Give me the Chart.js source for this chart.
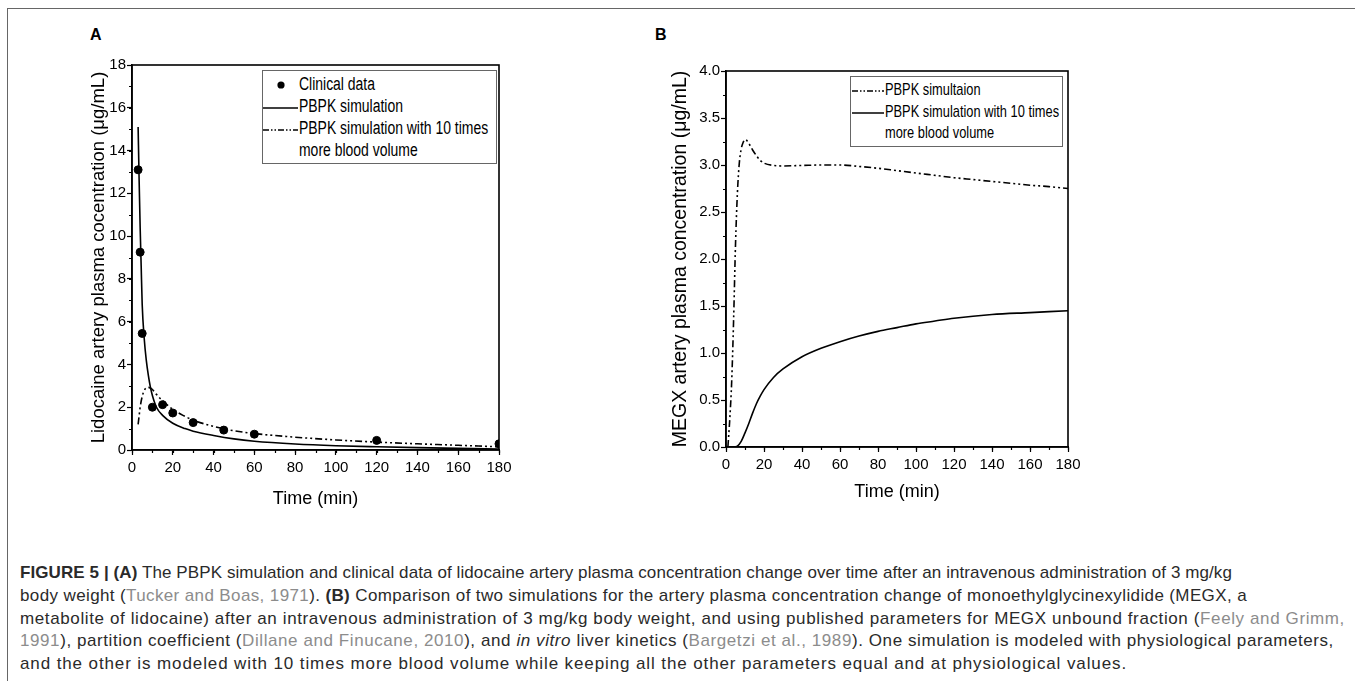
<!DOCTYPE html>
<html>
<head>
<meta charset="utf-8">
<script src="https://cdn.jsdelivr.net/npm/chart.js@4.4.1/dist/chart.umd.min.js"></script>
<style>
  body { margin: 0; background: #fff; }
  #page { position: relative; width: 1355px; height: 681px; overflow: hidden; background: #fff; }
  #frame { position: absolute; left: 7px; top: 8px; width: 1400px; height: 700px; border: 1.5px solid #666; }
  .panel { position: absolute; font: bold 16px 'Liberation Sans', Arial, sans-serif; }
  canvas { position: absolute; }
  .legend { position: absolute; border: 1px solid #666; background: #fff; font-family: 'Liberation Sans', Arial, sans-serif; color: #000; }
  .legend .row { position: absolute; white-space: nowrap; transform-origin: 0 50%; }
  .legend svg { position: absolute; }
  #caption { position: absolute; left: 20px; top: 562px; font: 17px 'Liberation Sans', Arial, sans-serif; color: #2a2a2a; }
  #caption .ln { height: 22.8px; line-height: 22.8px; white-space: nowrap; }
  #caption .ref { color: #8c8c8c; }
</style>
</head>
<body>
<div id="page">
  <div id="frame"></div>
  <div class="panel" style="left:90px; top:26px;">A</div>
  <div class="panel" style="left:655px; top:26px;">B</div>
  <canvas id="chartA" width="640" height="530" style="left:0; top:0;"></canvas>
  <canvas id="chartB" width="715" height="530" style="left:640px; top:0;"></canvas>

  <div class="legend" style="left:262px; top:70px; width:233px; height:92px; font-size:18px;">
    <svg width="40" height="92" style="left:0; top:0;">
      <circle cx="18" cy="14" r="3.6" fill="#000"/>
      <line x1="0" y1="37" x2="35" y2="37" stroke="#000" stroke-width="1.5"/>
      <line x1="0" y1="59" x2="35" y2="59" stroke="#000" stroke-width="1.5" stroke-dasharray="6 2 1.5 2 1.5 2"/>
    </svg>
    <div class="row" style="left:36px; top:3px; transform:scaleX(0.775);">Clinical data</div>
    <div class="row" style="left:36px; top:25px; transform:scaleX(0.775);">PBPK simulation</div>
    <div class="row" style="left:36px; top:47px; transform:scaleX(0.775);">PBPK simulation with 10 times</div>
    <div class="row" style="left:36px; top:69px; transform:scaleX(0.775);">more blood volume</div>
  </div>

  <div class="legend" style="left:850px; top:76px; width:211px; height:69px; font-size:17px;">
    <svg width="40" height="69" style="left:0; top:0;">
      <line x1="1" y1="14" x2="33" y2="14" stroke="#000" stroke-width="1.5" stroke-dasharray="6 2 1.5 2 1.5 2"/>
      <line x1="1" y1="36" x2="33" y2="36" stroke="#000" stroke-width="1.5"/>
    </svg>
    <div class="row" style="left:34px; top:3px; transform:scaleX(0.755);">PBPK simultaion</div>
    <div class="row" style="left:34px; top:25px; transform:scaleX(0.755);">PBPK simulation with 10 times</div>
    <div class="row" style="left:34px; top:46px; transform:scaleX(0.755);">more blood volume</div>
  </div>

  <div id="caption">
    <div class="ln" data-end="1232"><b>FIGURE 5 | (A)</b> The PBPK simulation and clinical data of lidocaine artery plasma concentration change over time after an intravenous administration of 3 mg/kg</div>
    <div class="ln" data-end="1247">body weight (<span class="ref">Tucker and Boas, 1971</span>). <b>(B)</b> Comparison of two simulations for the artery plasma concentration change of monoethylglycinexylidide (MEGX, a</div>
    <div class="ln" data-end="1345">metabolite of lidocaine) after an intravenous administration of 3 mg/kg body weight, and using published parameters for MEGX unbound fraction (<span class="ref">Feely and Grimm,</span></div>
    <div class="ln" data-end="1334"><span class="ref">1991</span>), partition coefficient (<span class="ref">Dillane and Finucane, 2010</span>), and <i>in vitro</i> liver kinetics (<span class="ref">Bargetzi et al., 1989</span>). One simulation is modeled with physiological parameters,</div>
    <div class="ln" data-end="1127">and the other is modeled with 10 times more blood volume while keeping all the other parameters equal and at physiological values.</div>
  </div>
</div>

<script>
// Panel A: lidocaine
const clinicalTime = [3, 4, 5, 10, 15, 20, 30, 45, 60, 120, 180];
const clinicalConc = [13.1, 9.25, 5.45, 2.0, 2.12, 1.73, 1.28, 0.93, 0.74, 0.45, 0.29];

const simTimeA = [3, 3.5, 4, 4.5, 5, 6, 7, 8, 9, 10, 12, 15, 20, 26, 30, 40, 50, 60, 80, 100, 120, 140, 160, 180];
const simConcA = [15.1, 12.6, 10.4, 8.6, 6.8, 5.2, 4.2, 3.5, 2.95, 2.55, 2.0, 1.62, 1.25, 1.0, 0.88, 0.68, 0.52, 0.41, 0.28, 0.2, 0.15, 0.11, 0.08, 0.05];

const sim10TimeA = [3, 3.5, 4, 5, 6, 7, 8, 9, 10, 12, 15, 20, 25, 30, 40, 50, 60, 80, 100, 120, 140, 160, 180];
const sim10ConcA = [1.2, 1.6, 2.0, 2.5, 2.78, 2.9, 2.93, 2.9, 2.83, 2.6, 2.3, 1.9, 1.62, 1.4, 1.1, 0.9, 0.77, 0.6, 0.47, 0.37, 0.29, 0.22, 0.15];

// Panel B: MEGX
const simTimeB = [1, 2, 3, 4, 5, 6, 7, 8, 9, 10, 11, 12, 14, 16, 18, 20, 25, 30, 40, 50, 60, 70, 80, 90, 100, 110, 120, 130, 140, 150, 160, 170, 180];
const simConcB = [0, 0.3, 0.7, 1.35, 2.15, 2.7, 3.02, 3.17, 3.24, 3.27, 3.26, 3.23, 3.16, 3.1, 3.05, 3.02, 2.995, 2.99, 2.995, 3.0, 3.0, 2.985, 2.965, 2.94, 2.915, 2.89, 2.865, 2.845, 2.825, 2.805, 2.785, 2.77, 2.75];

const sim10TimeB = [4.5, 6, 8, 10, 12, 14, 16, 18, 20, 25, 30, 40, 50, 60, 70, 80, 90, 100, 110, 120, 140, 160, 180];
const sim10ConcB = [0, 0.01, 0.06, 0.15, 0.25, 0.36, 0.46, 0.54, 0.61, 0.74, 0.83, 0.96, 1.05, 1.12, 1.18, 1.23, 1.27, 1.31, 1.34, 1.37, 1.41, 1.43, 1.45];

const dashDotDot = [7, 3, 2, 3, 2, 3];
const fontFam = "'Liberation Sans', Arial, sans-serif";

function pts(xs, ys) {
  return xs.map((x, i) => ({ x: x, y: ys[i] }));
}

// box around the plot area + short minor ticks
const axisBits = {
  id: 'axisBits',
  afterDraw(chart, args, opts) {
    const ctx = chart.ctx;
    const a = chart.chartArea;
    const xs = chart.scales.x, ys = chart.scales.y;
    ctx.save();
    ctx.strokeStyle = '#000';
    ctx.lineWidth = 1.6;
    ctx.strokeRect(a.left, a.top, a.right - a.left, a.bottom - a.top);
    ctx.lineWidth = 1.2;
    ctx.beginPath();
    for (let v = xs.min; v <= xs.max + 1e-9; v += opts.xMinor) {
      const px = Math.round(xs.getPixelForValue(v)) + 0.5;
      ctx.moveTo(px, a.bottom); ctx.lineTo(px, a.bottom + 3);
    }
    for (let v = ys.min; v <= ys.max + 1e-9; v += opts.yMinor) {
      const py = Math.round(ys.getPixelForValue(v)) + 0.5;
      ctx.moveTo(a.left, py); ctx.lineTo(a.left - 3, py);
    }
    ctx.stroke();
    ctx.restore();
  }
};

function axes(cfg) {
  return {
    x: {
      type: 'linear', min: 0, max: 180,
      afterFit: s => { s.height = cfg.xh; },
      ticks: { stepSize: 20, color: '#000', font: { family: fontFam, size: 15 }, padding: 4, maxRotation: 0 },
      grid: { drawOnChartArea: false, tickLength: 5, tickColor: '#000', tickWidth: 1.2 },
      border: { color: '#000', width: 1.6 },
      title: { display: true, text: 'Time (min)', color: '#000', font: { family: fontFam, size: 18 }, padding: { top: 4, bottom: cfg.xtb } }
    },
    y: {
      type: 'linear', min: 0, max: cfg.ymax,
      afterFit: s => { s.width = cfg.yw; },
      ticks: { stepSize: cfg.ystep, color: '#000', font: { family: fontFam, size: 15 }, padding: 1,
               callback: v => cfg.yfmt(v) },
      grid: { drawOnChartArea: false, tickLength: 5, tickColor: '#000', tickWidth: 1.2 },
      border: { color: '#000', width: 1.6 },
      title: { display: true, text: cfg.ytitle, color: '#000', font: { family: fontFam, size: cfg.yts }, padding: { top: 4, bottom: 4 } }
    }
  };
}

const common = {
  responsive: false,
  animation: false,
  elements: { line: { cubicInterpolationMode: 'monotone' } }
};

new Chart(document.getElementById('chartA'), {
  type: 'scatter',
  data: {
    datasets: [
      { label: 'Clinical data', data: pts(clinicalTime, clinicalConc), showLine: false,
        pointRadius: 4, pointBackgroundColor: '#000', pointBorderColor: '#000' },
      { label: 'PBPK simulation', data: pts(simTimeA, simConcA), showLine: true,
        borderColor: '#000', borderWidth: 1.6, pointRadius: 0 },
      { label: 'PBPK simulation with 10 times more blood volume', data: pts(sim10TimeA, sim10ConcA), showLine: true,
        borderColor: '#000', borderWidth: 1.6, borderDash: dashDotDot, pointRadius: 0 }
    ]
  },
  options: Object.assign({}, common, {
    layout: { padding: { left: 84, top: 65, right: 141, bottom: 0 } },
    scales: axes({ xh: 80, xtb: 20, yw: 48, ymax: 18, ystep: 2, yts: 18.5, yfmt: v => String(v),
                   ytitle: 'Lidocaine artery plasma cocentration (\u03bcg/mL)' }),
    plugins: { legend: { display: false }, tooltip: { enabled: false }, axisBits: { xMinor: 10, yMinor: 1 } }
  }),
  plugins: [axisBits]
});

new Chart(document.getElementById('chartB'), {
  type: 'scatter',
  data: {
    datasets: [
      { label: 'PBPK simultaion', data: pts(simTimeB, simConcB), showLine: true,
        borderColor: '#000', borderWidth: 1.6, borderDash: dashDotDot, pointRadius: 0 },
      { label: 'PBPK simulation with 10 times more blood volume', data: pts(sim10TimeB, sim10ConcB), showLine: true,
        borderColor: '#000', borderWidth: 1.6, pointRadius: 0 }
    ]
  },
  options: Object.assign({}, common, {
    layout: { padding: { left: 25, top: 71, right: 287, bottom: 0 } },
    scales: axes({ xh: 83, xtb: 27, yw: 61, ymax: 4, ystep: 0.5, yts: 19.5, yfmt: v => v.toFixed(1),
                   ytitle: 'MEGX artery plasma concentration (\u03bcg/mL)' }),
    plugins: { legend: { display: false }, tooltip: { enabled: false }, axisBits: { xMinor: 10, yMinor: 0.25 } }
  }),
  plugins: [axisBits]
});

// stretch each caption line so it ends where the printed one does
document.querySelectorAll('#caption .ln').forEach(ln => {
  const target = +ln.dataset.end - 20;
  const range = document.createRange();
  range.selectNodeContents(ln);
  const w = range.getBoundingClientRect().width;
  const n = ln.textContent.length;
  ln.style.letterSpacing = ((target - w) / n).toFixed(3) + 'px';
});
</script>
</body>
</html>
